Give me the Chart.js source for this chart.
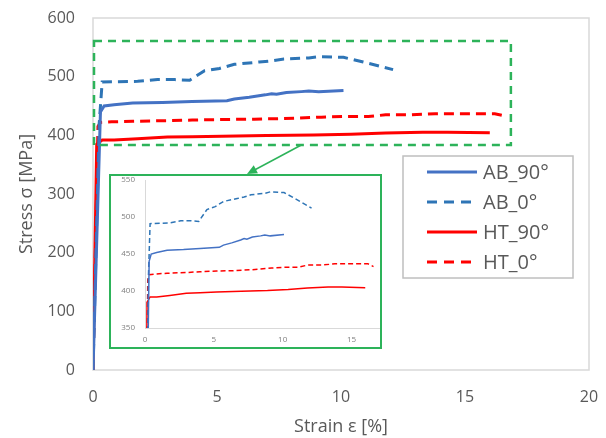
<!DOCTYPE html>
<html>
<head>
<meta charset="utf-8">
<script src="https://cdn.jsdelivr.net/npm/chart.js@4/dist/chart.umd.min.js"></script>
<style>
  body { margin: 0; background: #fff; }
  #wrap { position: relative; width: 606px; height: 438px; }
  #inset {
    position: absolute; left: 109px; top: 174px; width: 273px; height: 175px;
    box-sizing: border-box; border: 2px solid #2DB35A; background: #fff;
  }
</style>
</head>
<body>
<div id="wrap">
  <canvas id="myChart" width="606" height="438"></canvas>
  <div id="inset"><canvas id="zoomChart" width="269" height="171"></canvas></div>
</div>
<script>
// strain [%] and stress [MPa]
const ab90Strain = [0, 0.3, 0.45, 0.85, 1.6, 2.8, 4.0, 5.4, 5.7, 6.3, 6.95, 7.2, 7.4, 7.8, 8.4, 8.7, 9.1, 10.1];
const ab90Stress = [0, 440, 450, 452, 455, 456, 457.5, 459, 462, 465, 469, 471, 470, 473, 474.5, 475.5, 474.5, 476.5];

const ab0Strain = [0, 0.25, 0.37, 1.8, 2.6, 3.3, 3.9, 4.5, 5.1, 5.7, 6.7, 7.2, 7.7, 8.7, 9.1, 10.1, 10.9, 12.1];
const ab0Stress = [0, 420, 491, 492, 495, 495, 494, 510, 514, 521, 525, 527, 530, 532, 534, 533, 525, 512];

const ht90Strain = [0, 0.15, 0.37, 0.85, 1.8, 3.0, 4.0, 5.2, 7.0, 8.9, 10.4, 11.8, 13.3, 14.3, 16.0];
const ht90Stress = [0, 385, 392, 392, 394, 397, 397.5, 398.5, 399.7, 400.6, 402, 404, 405.3, 405.3, 404.5];

const ht0Strain = [0, 0.2, 0.3, 0.75, 1.6, 3.0, 4.0, 5.2, 6.5, 7.7, 9.2, 10.1, 11.1, 11.8, 12.8, 13.8, 15, 16.2, 16.6];
const ht0Stress = [0, 415, 422, 423, 424, 425, 426, 427, 427.5, 428.7, 431, 432, 432, 435, 435, 436.7, 436.7, 436.7, 433];

const seriesNames = ['AB_90°', 'AB_0°', 'HT_90°', 'HT_0°'];
const xTicks = [0, 5, 10, 15, 20];
const yTicks = [0, 100, 200, 300, 400, 500, 600];
const zoomXTicks = [0, 5, 10, 15];
const zoomYTicks = [350, 400, 450, 500, 550];

// region of the main chart that is magnified in the inset
const zoomBoxStrain = [0, 16.85];
const zoomBoxStress = [383.5, 561];
const arrowFromStrain = 8.4;

const GREEN = '#2DB35A';
const TXT = '#595959';

const pts = (xs, ys) => xs.map((x, i) => ({x: x, y: ys[i]}));

const makeSets = (w, dash) => [
    {label: seriesNames[0], data: pts(ab90Strain, ab90Stress), borderColor: '#4472C4', borderWidth: w, borderDash: []},
    {label: seriesNames[1], data: pts(ab0Strain, ab0Stress), borderColor: '#2E75B6', borderWidth: w, borderDash: dash},
    {label: seriesNames[2], data: pts(ht90Strain, ht90Stress), borderColor: '#FF0000', borderWidth: w, borderDash: []},
    {label: seriesNames[3], data: pts(ht0Strain, ht0Stress), borderColor: '#FF0000', borderWidth: w, borderDash: dash},
].map(d => Object.assign(d, {showLine: true, pointRadius: 0, tension: 0, fill: false}));

const mainPlugin = {
    id: 'mainDecor',
    beforeDatasetsDraw(chart) {
        const {ctx, chartArea: a} = chart;
        ctx.save();
        ctx.strokeStyle = '#D9D9D9';
        ctx.lineWidth = 1.5;
        ctx.strokeRect(a.left, a.top, a.right - a.left, a.bottom - a.top);
        ctx.restore();
    },
    afterDatasetsDraw(chart) {
        const {ctx, scales: {x, y}} = chart;
        const x0 = x.getPixelForValue(zoomBoxStrain[0]) + 1;
        const x1 = x.getPixelForValue(zoomBoxStrain[1]);
        const y0 = y.getPixelForValue(zoomBoxStress[1]);
        const y1 = y.getPixelForValue(zoomBoxStress[0]);
        ctx.save();
        ctx.strokeStyle = GREEN;
        ctx.lineWidth = 2.5;
        ctx.setLineDash([8, 6]);
        ctx.strokeRect(x0, y0, x1 - x0, y1 - y0);
        ctx.setLineDash([]);

        // arrow to the inset
        const inset = document.getElementById('inset');
        const sx = x.getPixelForValue(arrowFromStrain), sy = y1;
        const ex = inset.offsetLeft + 138, ey = inset.offsetTop;
        const ang = Math.atan2(ey - sy, ex - sx);
        ctx.lineWidth = 1.5;
        ctx.beginPath();
        ctx.moveTo(sx, sy);
        ctx.lineTo(ex - 8 * Math.cos(ang), ey - 8 * Math.sin(ang));
        ctx.stroke();
        ctx.fillStyle = GREEN;
        ctx.beginPath();
        ctx.moveTo(ex, ey);
        ctx.lineTo(ex - 10 * Math.cos(ang) + 4.5 * Math.sin(ang), ey - 10 * Math.sin(ang) - 4.5 * Math.cos(ang));
        ctx.lineTo(ex - 10 * Math.cos(ang) - 4.5 * Math.sin(ang), ey - 10 * Math.sin(ang) + 4.5 * Math.cos(ang));
        ctx.closePath();
        ctx.fill();

        // legend
        const lx = 403, ly = 156, lw = 170, lh = 122;
        ctx.strokeStyle = '#BFBFBF';
        ctx.lineWidth = 1.5;
        ctx.strokeRect(lx, ly, lw, lh);
        ctx.font = '20px "Open Sans"';
        ctx.textBaseline = 'middle';
        chart.data.datasets.forEach((ds, i) => {
            const cy = ly + 16 + i * 30;
            ctx.strokeStyle = ds.borderColor;
            ctx.lineWidth = 3;
            ctx.setLineDash(ds.borderDash.length ? [10, 7] : []);
            ctx.beginPath();
            ctx.moveTo(lx + 24, cy);
            ctx.lineTo(lx + 74, cy);
            ctx.stroke();
            ctx.setLineDash([]);
            ctx.fillStyle = TXT;
            ctx.fillText(ds.label, lx + 80, cy + 1);
        });
        ctx.restore();
    }
};

const onlyTicks = list => scale => { scale.ticks = list.map(v => ({value: v})); };
const fixWidth = w => s => { s.width = w; s.paddingTop = 0; s.paddingBottom = 0; };
const fixHeight = h => s => { s.height = h; s.paddingLeft = 0; s.paddingRight = 0; };

const myChart = new Chart(document.getElementById('myChart'), {
    type: 'scatter',
    data: {datasets: makeSets(3, [10, 6])},
    options: {
        responsive: false,
        animation: false,
        layout: {padding: {top: 18, right: 17, left: 0, bottom: 0}},
        plugins: {legend: {display: false}, tooltip: {enabled: false}},
        scales: {
            x: {
                type: 'linear', min: 0, max: 20,
                afterBuildTicks: onlyTicks(xTicks),
                afterFit: fixHeight(68),
                grid: {display: false, drawTicks: false},
                border: {display: false},
                ticks: {font: {family: 'Open Sans', size: 16}, color: TXT, padding: 18},
                title: {display: true, text: 'Strain ε [%]', font: {family: 'Open Sans', size: 18}, color: TXT, padding: {top: 0, bottom: 0}}
            },
            y: {
                type: 'linear', min: 0, max: 600,
                afterBuildTicks: onlyTicks(yTicks),
                afterFit: fixWidth(93),
                grid: {display: false, drawTicks: false},
                border: {display: false},
                ticks: {font: {family: 'Open Sans', size: 16}, color: TXT, padding: 18},
                title: {display: true, text: 'Stress σ [MPa]', font: {family: 'Open Sans', size: 18}, color: TXT, padding: {top: 16, bottom: 0}}
            }
        }
    },
    plugins: [mainPlugin]
});

const zoomChart = new Chart(document.getElementById('zoomChart'), {
    type: 'scatter',
    data: {datasets: makeSets(1.5, [5, 3])},
    options: {
        responsive: false,
        animation: false,
        clip: 0,
        layout: {padding: {top: 4, right: 1, left: 0, bottom: 0}},
        plugins: {legend: {display: false}, tooltip: {enabled: false}},
        scales: {
            x: {
                type: 'linear', min: 0, max: 17,
                afterBuildTicks: onlyTicks(zoomXTicks),
                afterFit: fixHeight(19),
                grid: {display: false, drawTicks: false},
                border: {color: '#D9D9D9', width: 1},
                ticks: {font: {family: 'Open Sans', size: 8}, color: '#7F7F7F', padding: 7}
            },
            y: {
                type: 'linear', min: 350, max: 550,
                afterBuildTicks: onlyTicks(zoomYTicks),
                afterFit: fixWidth(34),
                grid: {display: false, drawTicks: false},
                border: {color: '#D9D9D9', width: 1},
                ticks: {font: {family: 'Open Sans', size: 8}, color: '#7F7F7F', padding: 10}
            }
        }
    }
});
</script>
</body>
</html>
